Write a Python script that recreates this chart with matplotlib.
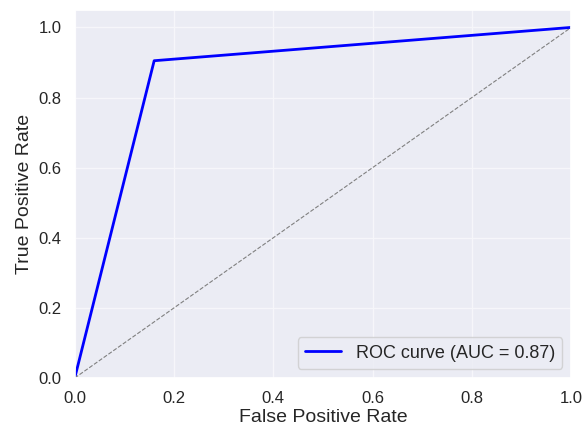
import matplotlib
matplotlib.use("Agg")
import matplotlib.pyplot as plt
import seaborn as sns

# ROC points from the thresholded classifier
fpr = [0.0, 0.16, 1.0]
tpr = [0.0, 0.905, 1.0]
roc_auc = 0.87

sns.set_theme(style="darkgrid", rc={"axes.facecolor": "#ebecf4",
                                    "grid.color": "#f6f6fa"})
plt.rcParams['font.family'] = ['Liberation Sans', 'DejaVu Sans']

fig = plt.figure(figsize=(5.84, 4.3), dpi=100)
ax = fig.add_axes([0.128, 0.121, 0.85, 0.856])
ax.plot(fpr, tpr, color='blue', lw=2, label='ROC curve (AUC = %0.2f)' % roc_auc)
ax.plot([0, 1], [0, 1], color='gray', lw=0.8, linestyle='--')
ax.set_xlim(0.0, 1.0)
ax.set_ylim(0.0, 1.05)
ax.set_xlabel('False Positive Rate', fontsize=14, labelpad=2)
ax.set_ylabel('True Positive Rate', fontsize=14)
ax.tick_params(labelsize=12)
ax.legend(loc='lower right', fontsize=13)
fig.savefig('out.png', dpi=100)
